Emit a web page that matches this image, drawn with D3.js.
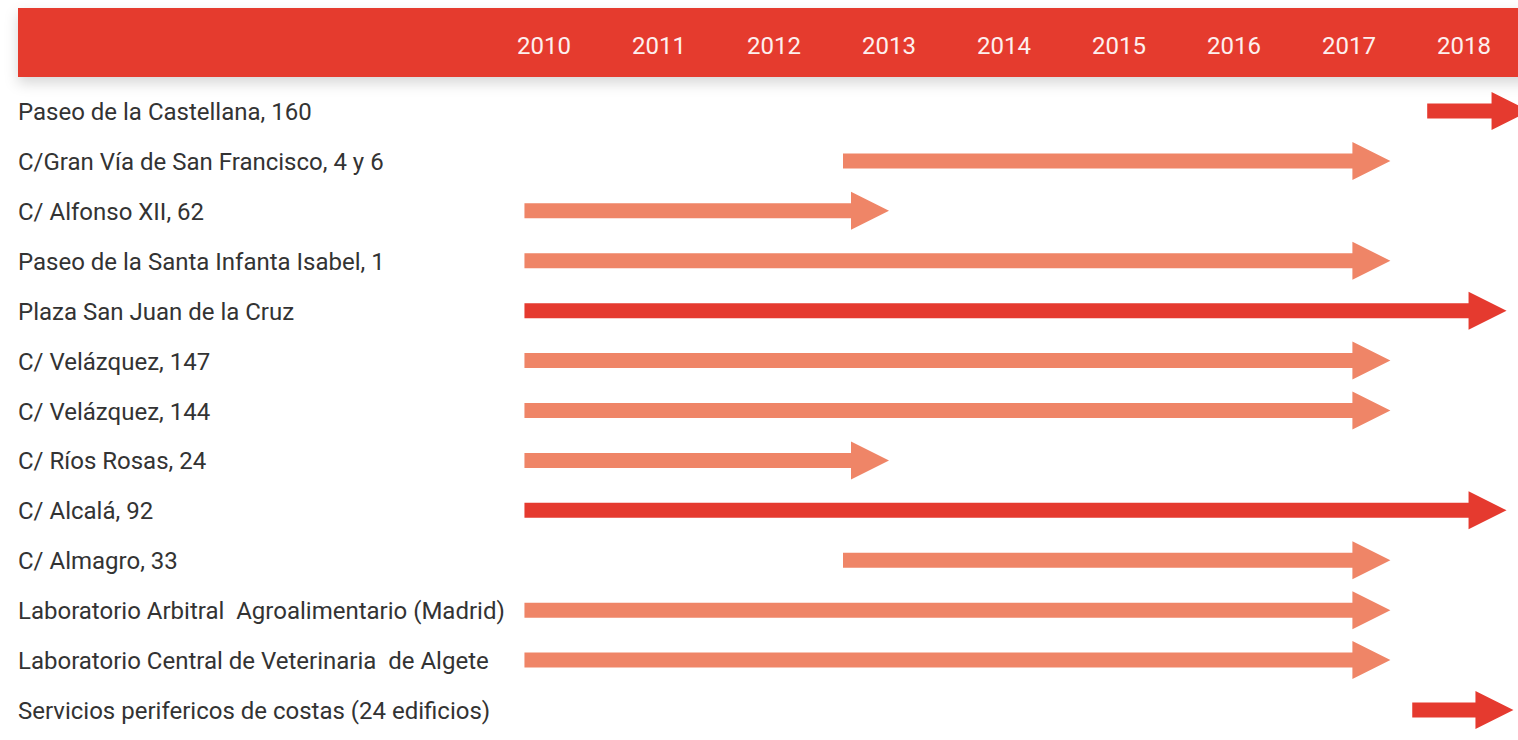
<!DOCTYPE html>
<html>
<head>
<meta charset="utf-8">
<script src="https://cdn.jsdelivr.net/npm/d3@7"></script>
<style>
  html, body { margin: 0; padding: 0; background: #fff; overflow: hidden; }
  svg { display: block; font-family: Roboto, sans-serif; }
  .label { white-space: pre; }
</style>
</head>
<body>
<div id="app"></div>
<script>
(function (d3) {

  'use strict'

  // years shown in the header
  const years = [2010, 2011, 2012, 2013, 2014, 2015, 2016, 2017, 2018]

  // buildings (top to bottom)
  const buildings = [
    'Paseo de la Castellana, 160',
    'C/Gran Vía de San Francisco, 4 y 6',
    'C/ Alfonso XII, 62',
    'Paseo de la Santa Infanta Isabel, 1',
    'Plaza San Juan de la Cruz',
    'C/ Velázquez, 147',
    'C/ Velázquez, 144',
    'C/ Ríos Rosas, 24',
    'C/ Alcalá, 92',
    'C/ Almagro, 33',
    'Laboratorio Arbitral  Agroalimentario (Madrid)',
    'Laboratorio Central de Veterinaria  de Algete',
    'Servicios perifericos de costas (24 edificios)'
  ]

  // period start / end (fractional year)
  const starts = [2017.68, 2012.6, 2009.83, 2009.83, 2009.83, 2009.83, 2009.83, 2009.83, 2009.83, 2012.6, 2009.83, 2009.83, 2017.55]
  const ends   = [2018.57, 2017.36, 2013.0, 2017.36, 2018.37, 2017.36, 2017.36, 2013.0, 2018.37, 2017.36, 2017.36, 2017.36, 2018.43]
  // still ongoing -> dark red arrow
  const ongoing = [true, false, false, false, true, false, false, false, true, false, false, false, true]

  const w = 1518
  const h = 740
  const dark = '#e53a2f'
  const light = '#ef8567'

  const x = d3.scaleLinear()
    .domain([2010, 2018])
    .range([544, 1464])

  const y = d3.scalePoint()
    .domain(buildings)
    .range([111, 710])

  const svg = d3.select('#app')
    .append('svg')
    .attr('width', w)
    .attr('height', h)

  const defs = svg.append('defs')
  const shadow = defs.append('filter')
    .attr('id', 'shadow')
    .attr('x', '-5%').attr('y', '-50%')
    .attr('width', '110%').attr('height', '200%')
  shadow.append('feDropShadow')
    .attr('dx', 0).attr('dy', 6)
    .attr('stdDeviation', 7)
    .attr('flood-color', '#000')
    .attr('flood-opacity', 0.16)

  // header band
  svg.append('rect')
    .attr('x', 18)
    .attr('y', 8)
    .attr('width', w - 18 + 20)
    .attr('height', 69)
    .attr('fill', dark)
    .attr('filter', 'url(#shadow)')

  svg.append('g')
    .selectAll('text')
    .data(years)
    .enter()
    .append('text')
    .attr('x', d => x(d))
    .attr('y', 54)
    .attr('text-anchor', 'middle')
    .attr('fill', '#fdf0ee')
    .style('font-size', '24px')
    .text(d => d)

  // row labels
  svg.append('g')
    .selectAll('text')
    .data(buildings)
    .enter()
    .append('text')
    .attr('class', 'label')
    .attr('x', 18)
    .attr('y', d => y(d) + 9)
    .attr('fill', '#333')
    .style('font-size', '24px')
    .text(d => d)

  // arrows
  const shaft = 7.5
  const headHalf = 19
  const headLen = 38
  const arrow = function (i) {
    const x0 = x(starts[i])
    const x1 = x(ends[i])
    const cy = y(buildings[i])
    const xh = x1 - headLen
    return 'M' + x0 + ',' + (cy - shaft) +
      'L' + xh + ',' + (cy - shaft) +
      'L' + xh + ',' + (cy - headHalf) +
      'L' + x1 + ',' + cy +
      'L' + xh + ',' + (cy + headHalf) +
      'L' + xh + ',' + (cy + shaft) +
      'L' + x0 + ',' + (cy + shaft) + 'Z'
  }

  svg.append('g')
    .selectAll('path')
    .data(d3.range(buildings.length))
    .enter()
    .append('path')
    .attr('d', arrow)
    .attr('fill', i => ongoing[i] ? dark : light)

}(d3))
</script>
</body>
</html>
